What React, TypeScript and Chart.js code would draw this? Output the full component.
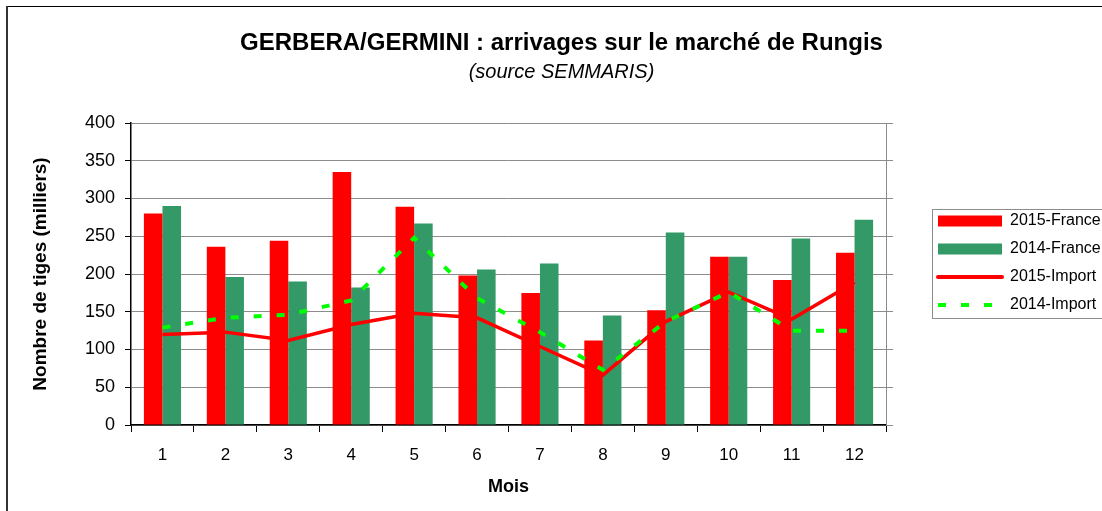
import React, { useEffect, useRef } from 'react';
import { Chart, registerables } from 'chart.js';

Chart.register(...registerables);

const months = ['1', '2', '3', '4', '5', '6', '7', '8', '9', '10', '11', '12'];
const france2015 = [280, 236, 244, 335, 289, 198, 175, 112, 152, 223, 192, 228];
const france2014 = [290, 196, 190, 182, 267, 206, 214, 145, 255, 223, 247, 272];
const import2015 = [120, 123, 112, 133, 148, 142, 104, 66, 137, 176, 140, 189];
const import2014 = [129, 142, 146, 165, 248, 168, 123, 73, 137, 176, 125, 125];
const seriesNames = ['2015-France', '2014-France', '2015-Import', '2014-Import'];
const yMin = 0;
const yMax = 400;
const yStep = 50;

const FONT = "'Liberation Sans', Arial, Helvetica, sans-serif";
const CANVAS_W = 1130;
const CANVAS_H = 511;

export default function App() {
  const ref = useRef<HTMLCanvasElement>(null);

  useEffect(() => {
    if (!ref.current) return;

    const framePlugin = {
      id: 'frame',
      beforeDraw(chart: any) {
        const ctx = chart.ctx;
        ctx.save();
        ctx.fillStyle = '#ffffff';
        ctx.fillRect(0, 0, chart.width, chart.height);
        ctx.fillStyle = '#000000';
        ctx.fillRect(6, 6, chart.width, 1);
        ctx.fillStyle = '#333333';
        ctx.fillRect(6, 6, 2, chart.height);
        ctx.restore();
      },
      afterLayout(chart: any) {
        const lg = chart.legend;
        if (!lg) return;
        const w = lg.width;
        const h = lg.height;
        lg.left = 926;
        lg.top = 201;
        lg.right = lg.left + w;
        lg.bottom = lg.top + h;
      },
      afterDraw(chart: any) {
        const ctx = chart.ctx;
        ctx.save();
        ctx.strokeStyle = '#8c8c8c';
        ctx.lineWidth = 1;
        ctx.strokeRect(932.5, 209.5, 300, 109);
        ctx.restore();
      },
    };

    const chart = new Chart(ref.current, {
      type: 'bar',
      data: {
        labels: months,
        datasets: [
          {
            type: 'bar',
            label: seriesNames[0],
            data: france2015,
            backgroundColor: '#FF0000',
            borderColor: '#FF0000',
            borderWidth: 0,
            order: 2,
            categoryPercentage: 0.59,
            barPercentage: 1.0,
            yAxisID: 'y',
          },
          {
            type: 'bar',
            label: seriesNames[1],
            data: france2014,
            backgroundColor: '#339966',
            borderColor: '#339966',
            borderWidth: 0,
            order: 2,
            categoryPercentage: 0.59,
            barPercentage: 1.0,
            yAxisID: 'y',
          },
          {
            type: 'line',
            label: seriesNames[2],
            data: import2015,
            borderColor: '#FF0000',
            backgroundColor: '#FF0000',
            borderWidth: 3.5,
            pointRadius: 0,
            pointHoverRadius: 0,
            tension: 0,
            fill: false,
            order: 1,
            yAxisID: 'y',
          },
          {
            type: 'line',
            label: seriesNames[3],
            data: import2014,
            borderColor: '#00FF00',
            backgroundColor: '#00FF00',
            borderWidth: 4,
            borderDash: [8, 15],
            pointRadius: 0,
            pointHoverRadius: 0,
            tension: 0,
            fill: false,
            order: 0,
            yAxisID: 'y',
          },
        ],
      } as any,
      options: {
        responsive: false,
        animation: false,
        devicePixelRatio: 1,
        layout: { padding: { top: 8, left: 7, right: 14, bottom: 0 } },
        plugins: {
          tooltip: { enabled: false },
          title: {
            display: true,
            text: 'GERBERA/GERMINI : arrivages sur le marché de Rungis',
            color: '#000',
            font: { family: FONT, size: 24, weight: 'bold' },
            padding: { top: 20.6, bottom: 0 },
          },
          subtitle: {
            display: true,
            text: '(source SEMMARIS)',
            color: '#000',
            font: { family: FONT, size: 20, style: 'italic', weight: 'normal' },
            padding: { top: 2.6, bottom: 39 },
          },
          legend: {
            display: true,
            position: 'chartArea',
            align: 'start',
            labels: {
              color: '#000',
              font: { family: FONT, size: 16 },
              usePointStyle: true,
              pointStyleWidth: 64,
              boxWidth: 64,
              boxHeight: 11,
              padding: 12,
              sort: (a: any, b: any) => a.datasetIndex - b.datasetIndex,
              generateLabels(chart: any) {
                const items = (Chart.defaults as any).plugins.legend.labels.generateLabels(chart);
                items.forEach((it: any) => {
                  const ds = chart.data.datasets[it.datasetIndex];
                  if (ds.type === 'line') {
                    it.pointStyle = 'line';
                    it.lineWidth = 4;
                    it.strokeStyle = ds.borderColor;
                    it.lineDash = ds.borderDash || [];
                    it.lineCap = ds.borderDash ? 'butt' : 'round';
                  } else {
                    it.pointStyle = 'rect';
                    it.lineWidth = 0;
                    it.lineDash = [];
                  }
                });
                return items;
              },
            },
          },
        },
        scales: {
          x: {
            type: 'category',
            offset: true,
            grid: {
              offset: true,
              drawOnChartArea: false,
              drawTicks: true,
              tickLength: 7,
              color: '#000',
              lineWidth: 1,
            },
            border: { color: '#000', width: 1.5 },
            ticks: { color: '#000', font: { family: FONT, size: 17 }, padding: 12.8, maxRotation: 0 },
            title: {
              display: true,
              text: 'Mois',
              color: '#000',
              font: { family: FONT, size: 18, weight: 'bold' },
              padding: { top: 0, bottom: 13.2 },
            },
            afterFit: (s: any) => {
              s.height = 86;
            },
          },
          y: {
            type: 'linear',
            position: 'left',
            min: yMin,
            max: yMax,
            ticks: { stepSize: yStep, color: '#000', font: { family: FONT, size: 18 }, padding: 10 },
            grid: { color: '#8c8c8c', lineWidth: 1, tickColor: '#000', tickLength: 6 },
            border: { color: '#000', width: 1.5 },
            title: {
              display: true,
              text: 'Nombre de tiges (milliers)',
              color: '#000',
              font: { family: FONT, size: 19, weight: 'bold' },
              padding: { top: 22, bottom: 0 },
            },
            afterFit: (s: any) => {
              s.width = 124;
            },
          },
          y2: {
            type: 'linear',
            position: 'right',
            min: yMin,
            max: yMax,
            ticks: { stepSize: yStep, display: false },
            grid: { drawOnChartArea: false, tickLength: 7, color: '#8c8c8c' },
            border: { color: '#8c8c8c', width: 1 },
            afterFit: (s: any) => {
              s.width = 230;
            },
          },
        },
      } as any,
      plugins: [framePlugin],
    });

    return () => chart.destroy();
  }, []);

  return (
    <div
      style={{
        position: 'fixed',
        left: 0,
        top: 0,
        width: 1102,
        height: 511,
        overflow: 'hidden',
        background: '#fff',
      }}
    >
      <canvas
        ref={ref}
        width={CANVAS_W}
        height={CANVAS_H}
        style={{ display: 'block', width: CANVAS_W, height: CANVAS_H }}
      />
    </div>
  );
}
